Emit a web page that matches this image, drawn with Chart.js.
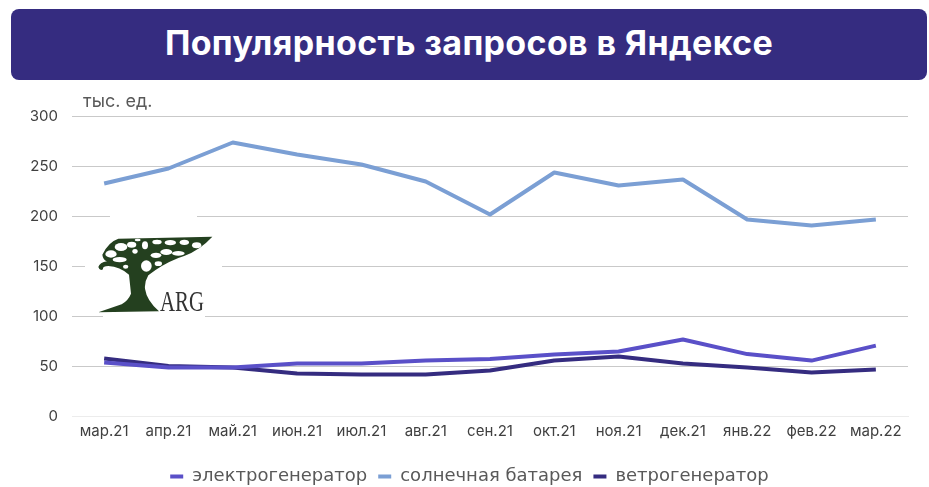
<!DOCTYPE html>
<html lang="ru">
<head>
<meta charset="utf-8">
<title>Популярность запросов в Яндексе</title>
<script src="https://cdn.jsdelivr.net/npm/chart.js@4"></script>
<style>
    html, body { margin: 0; padding: 0; background: #fff; }
    body { width: 929px; height: 487px; position: relative; overflow: hidden; font-family: 'Inter', sans-serif; }
    .banner {
        position: absolute; left: 11px; top: 9px; width: 916px; height: 71px;
        background: #352c80; border-radius: 8px; color: #fff;
        font-size: 34px; font-weight: 700; letter-spacing: 0.35px; line-height: 68px; text-align: center;
    }
    .unit { position: absolute; left: 83px; top: 90px; font-size: 18px; color: #595959; }
    #chart-wrap { position: absolute; left: 0; top: 80px; width: 929px; height: 407px; }
    #logo { position: absolute; left: 0; top: 0; pointer-events: none; }
</style>
</head>
<body>
<div class="banner">Популярность запросов в Яндексе</div>
<div id="chart-wrap"><canvas id="chart"></canvas></div>
<div class="unit">тыс. ед.</div>
<svg id="logo" width="929" height="487">
    <rect x="110" y="212" width="87" height="10" fill="#fff"/>
    <rect x="85" y="262" width="137" height="10" fill="#fff"/>
    <rect x="103" y="312" width="102" height="9" fill="#fff"/>
    <g transform="translate(95 232) scale(0.3333)">
        <path fill="#24401f" d="M352 14 L180 18 L70 20 Q40 30 22 68 Q24 84 36 88 Q14 92 10 105 Q14 118 24 112 Q22 102 40 102 Q75 104 102 128 L108 185 Q100 205 80 217 L10 241 L192 238 Q155 205 150 170 Q148 150 160 130 Q200 98 250 78 Q310 60 352 14 Z"/>
        <g fill="#fff">
            <ellipse cx="78" cy="45" rx="19" ry="12"/><ellipse cx="48" cy="66" rx="17" ry="11"/>
            <ellipse cx="74" cy="83" rx="21" ry="8"/><ellipse cx="110" cy="38" rx="14" ry="9"/>
            <ellipse cx="128" cy="24" rx="9" ry="4"/><ellipse cx="150" cy="40" rx="9" ry="12"/>
            <ellipse cx="186" cy="30" rx="14" ry="7"/><ellipse cx="226" cy="32" rx="17" ry="8"/>
            <ellipse cx="268" cy="31" rx="14" ry="8"/><ellipse cx="305" cy="40" rx="14" ry="9"/>
            <ellipse cx="214" cy="60" rx="18" ry="9"/><ellipse cx="250" cy="64" rx="19" ry="7"/>
            <ellipse cx="183" cy="70" rx="16" ry="8"/><ellipse cx="154" cy="102" rx="16" ry="17"/>
            <ellipse cx="190" cy="95" rx="11" ry="7"/><ellipse cx="92" cy="104" rx="8" ry="6"/>
            <ellipse cx="120" cy="58" rx="8" ry="7"/>
        </g>
        <text x="195" y="236" font-family="Liberation Serif" font-size="86" fill="#333" textLength="132" lengthAdjust="spacingAndGlyphs">ARG</text>
    </g>
</svg>
<script>
const categories = ['мар.21', 'апр.21', 'май.21', 'июн.21', 'июл.21', 'авг.21', 'сен.21', 'окт.21', 'ноя.21', 'дек.21', 'янв.22', 'фев.22', 'мар.22'];
const generatorValues = [54, 49, 49, 53, 53, 56, 57.5, 62, 65, 77, 62.5, 56, 71];
const solarValues = [233, 248, 274, 262, 252, 235, 202, 244, 231, 237, 197, 191, 197];
const windValues = [58, 50.5, 49, 43, 42, 42, 46, 56, 60, 53, 49, 44, 47];
const yTicks = [0, 50, 100, 150, 200, 250, 300];

const TEXT_COLOR = '#404040';
const FONT = { family: "'Inter', sans-serif", size: 15 };

function series(label, data, color) {
    return {
        label: label,
        data: data,
        borderColor: color,
        backgroundColor: color,
        borderWidth: 4,
        pointRadius: 0,
        tension: 0,
        borderCapStyle: 'butt',
        borderJoinStyle: 'round'
    };
}

new Chart(document.getElementById('chart'), {
    type: 'line',
    data: {
        labels: categories,
        datasets: [
            series('электрогенератор', generatorValues, '#5a50c8'),
            series('солнечная батарея', solarValues, '#7b9fd4'),
            series('ветрогенератор', windValues, '#352c80')
        ]
    },
    options: {
        responsive: true,
        maintainAspectRatio: false,
        animation: false,
        // left padding recentres the legend, negative bottom lets its padding hang off the canvas
        layout: { padding: { left: 31, right: 21, top: 36.5, bottom: -8.4 } },
        plugins: {
            title: { display: false },
            tooltip: { enabled: false },
            legend: {
                position: 'bottom',
                labels: {
                    color: '#595959',
                    font: { family: "'DejaVu Sans', sans-serif", size: 18 },
                    boxWidth: 13,
                    boxHeight: 4,
                    padding: 11,
                    // no stroke round the swatch, it would thicken it
                    generateLabels: chart => Chart.defaults.plugins.legend.labels.generateLabels(chart)
                        .map(item => Object.assign(item, { lineWidth: 0 }))
                }
            }
        },
        scales: {
            x: {
                offset: true,
                afterFit: scale => { scale.height = 39.8; },
                grid: { display: false, drawTicks: false },
                border: { color: '#ececec' },
                ticks: { color: TEXT_COLOR, font: FONT, maxRotation: 0, autoSkip: false, padding: 6 }
            },
            y: {
                min: 0,
                max: 300,
                afterFit: scale => { scale.width = 41; },
                afterBuildTicks: scale => { scale.ticks = yTicks.map(v => ({ value: v })); },
                grid: { color: ctx => ctx.tick.value === 0 ? '#ececec' : '#c9c9c9', drawTicks: false },
                border: { display: false },
                ticks: { color: TEXT_COLOR, font: FONT, padding: 14 }
            }
        }
    }
});
</script>
</body>
</html>
